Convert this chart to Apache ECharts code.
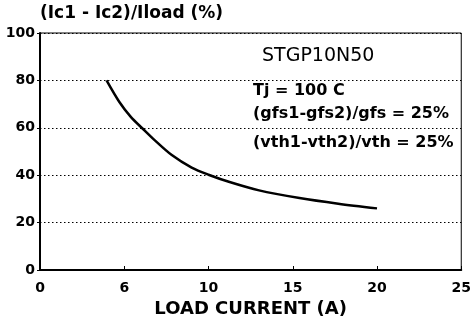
<!DOCTYPE html>
<html><head><meta charset="utf-8">
<script src="https://cdn.jsdelivr.net/npm/echarts@6/dist/echarts.min.js"></script>
<style>html,body{margin:0;padding:0;background:#fff}#c{width:474px;height:323px}</style>
</head><body><div id="c"></div>
<script>
// Data
var loadCurrent = [3.95, 4.7, 5.4, 6.1, 6.8, 7.8, 9, 10, 11.3, 13, 15.4, 17.7, 20];
var ratioPct    = [80, 71, 64.5, 59.6, 54.8, 48.6, 43.2, 40.2, 37, 33.6, 30.4, 28, 26];
var xTickValues = [0, 5, 10, 15, 20, 25];
var xTickLabels = ['0', '6', '10', '15', '20', '25'];
var yTickLabels = ['0', '20', '40', '60', '80', '100'];
var notes = ['STGP10N50', 'Tj = 100 C', '(gfs1-gfs2)/gfs = 25%', '(vth1-vth2)/vth = 25%'];
var yTitle = '(Ic1 - Ic2)/Iload (%)';
var xTitle = 'LOAD CURRENT (A)';

var F = 'DejaVu Sans';
var chart = echarts.init(document.getElementById('c'));
var pts = loadCurrent.map(function (x, i) { return [x, ratioPct[i]]; });
chart.setOption({
  animation: false,
  backgroundColor: '#fff',
  grid: { left: 40, right: 11, top: 33, bottom: 50, show: true, borderColor: '#000', borderWidth: 1 },
  title: { text: yTitle, left: 35, top: 0, textStyle: { fontFamily: F, fontWeight: 'bold', fontSize: 17, color: '#000' } },
  xAxis: {
    type: 'value', min: 0, max: 25, interval: 5,
    name: xTitle, nameLocation: 'middle', nameGap: 30,
    nameTextStyle: { fontFamily: F, fontWeight: 'bold', fontSize: 18, color: '#000' },
    axisLine: { lineStyle: { color: '#000', width: 2 } },
    axisTick: { inside: true, length: 4, lineStyle: { color: '#000' } },
    axisLabel: { fontFamily: F, fontWeight: 'bold', fontSize: 14, color: '#000', margin: 11,
      formatter: function (v) { var i = xTickValues.indexOf(v); return i >= 0 ? xTickLabels[i] : ''; } },
    splitLine: { show: false }
  },
  yAxis: {
    type: 'value', min: 0, max: 100, interval: 20,
    axisLine: { show: true, lineStyle: { color: '#000', width: 2 } },
    axisTick: { show: true, length: 3, lineStyle: { color: '#000' } },
    axisLabel: { fontFamily: F, fontWeight: 'bold', fontSize: 14, color: '#000', margin: 5,
      formatter: function (v) { return yTickLabels[Math.round(v / 20)]; } },
    splitLine: { show: true, lineStyle: { color: '#000', width: 1, type: [1.5, 2.5] } }
  },
  series: [{
    type: 'line', data: pts, smooth: 0.3, showSymbol: false,
    lineStyle: { color: '#000', width: 2.5 }
  }],
  graphic: [
    { type: 'text', left: 262, top: 47, style: { text: notes[0], font: 'normal 19px "DejaVu Sans"', fill: '#000' } },
    { type: 'text', left: 253, top: 83, style: { text: notes[1], font: 'bold 16px "DejaVu Sans"', fill: '#000' } },
    { type: 'text', left: 253, top: 106, style: { text: notes[2], font: 'bold 16px "DejaVu Sans"', fill: '#000' } },
    { type: 'text', left: 253, top: 135, style: { text: notes[3], font: 'bold 16px "DejaVu Sans"', fill: '#000' } }
  ]
});
</script></body></html>
